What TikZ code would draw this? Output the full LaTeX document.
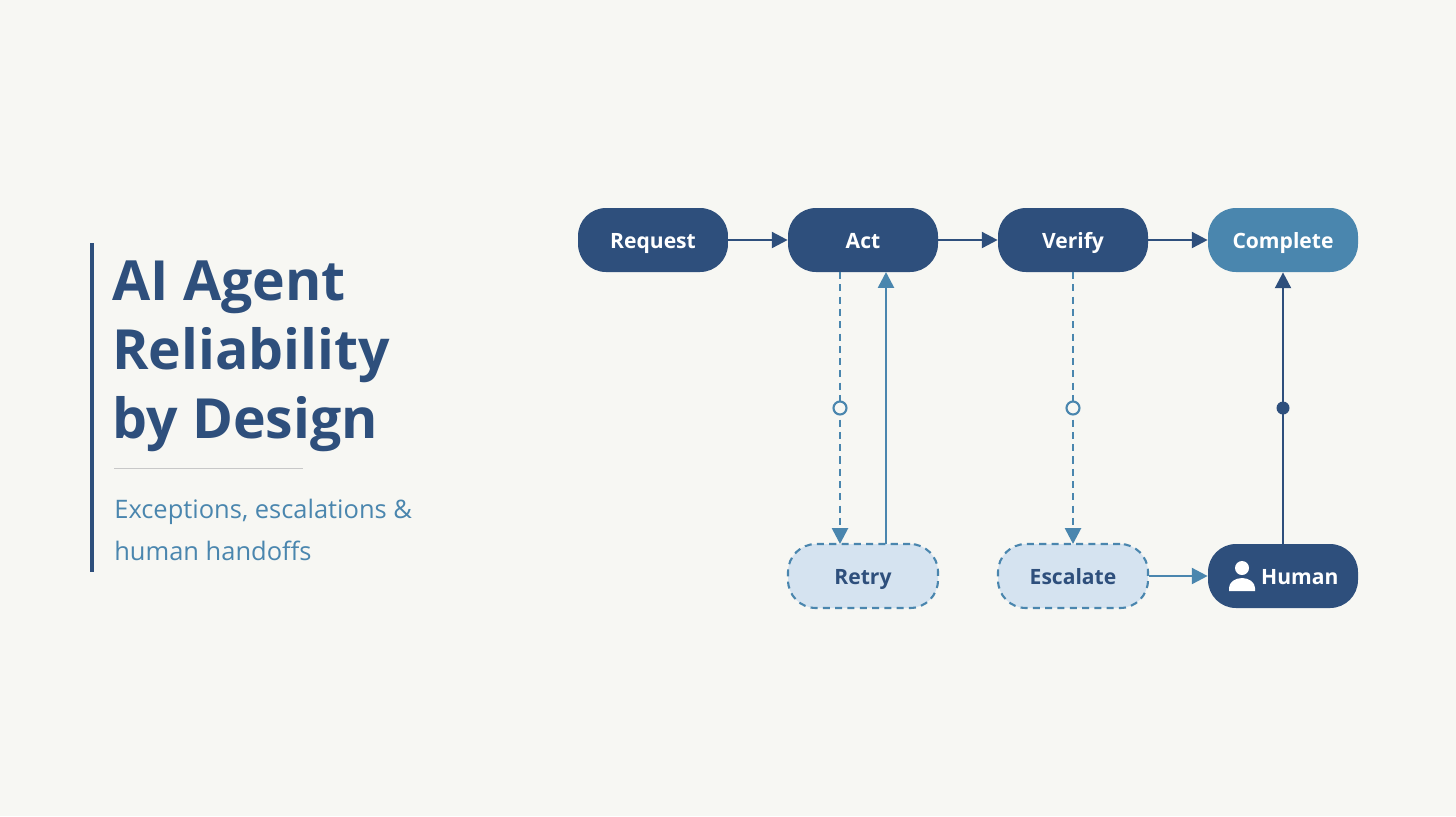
\documentclass[tikz,border=0pt]{standalone}
\usepackage{fontspec}
\setmainfont{Open Sans}
\usetikzlibrary{arrows.meta}
\definecolor{bg}{HTML}{F7F7F3}
\definecolor{dark}{HTML}{2E4F7C}
\definecolor{mid}{HTML}{4A86AE}
\definecolor{light}{HTML}{D5E3F0}
\definecolor{rule}{HTML}{C8C8C8}
\begin{document}
\begin{tikzpicture}[x=0.02cm,y=-0.02cm,
 pill/.style={rounded corners=15.9pt,minimum width=3cm,minimum height=1.28cm,font=\fontsize{12}{14}\selectfont\bfseries,text=white,fill=dark,text height=2ex,text depth=0.1ex},
 soft/.style={pill,fill=light,text=dark,draw=mid,dashed,line width=1.2pt,dash pattern=on 4pt off 3pt},
 arr/.style={line width=1.5pt,-{Triangle[length=9pt,width=9pt]}},
 dsh/.style={arr,dash pattern=on 4pt off 3pt}]
\fill[bg] (0,0) rectangle (1456,816);
\node[pill] (req) at (653,240) {Request};
\node[pill] (act) at (863,240) {Act};
\node[pill] (ver) at (1073,240) {Verify};
\node[pill,fill=mid] (com) at (1283,240) {Complete};
\node[soft] (ret) at (863,576) {Retry};
\node[soft] (esc) at (1073,576) {Escalate};
\node[pill] (hum) at (1283,576) {\hspace{1.6em}Human};
% person icon
\fill[white] (1242,568) circle (7);
\fill[white] (1229,591) -- (1229,588) arc[start angle=180,end angle=0,x radius=13,y radius=-10] -- (1255,591) -- cycle;
\draw[arr,dark] (req) -- (act);
\draw[arr,dark] (act) -- (ver);
\draw[arr,dark] (ver) -- (com);
\draw[dsh,mid] (840,272) -- (840,544);
\draw[arr,mid] (886,544) -- (886,272);
\draw[dsh,mid] (1073,272) -- (1073,544);
\draw[arr,mid] (esc) -- (hum);
\draw[arr,dark] (hum.north) -- (com.south);
\node[circle,draw=mid,fill=bg,line width=1.2pt,inner sep=0pt,minimum size=0.26cm] (c1) at (840,408) {};
\node[circle,draw=mid,fill=bg,line width=1.2pt,inner sep=0pt,minimum size=0.26cm] (c2) at (1073,408) {};
\node[circle,fill=dark,inner sep=0pt,minimum size=0.26cm] (c3) at (1283,408) {};
% title
\fill[dark] (90,243) rectangle (94,572);
\draw[rule,line width=0.5pt] (114,468) -- (303,468);
\node[anchor=base west,text=dark,font=\fontsize{31.5}{39}\selectfont\bfseries,inner sep=0pt] (t1) at (112,300) {AI Agent};
\node[anchor=base west,text=dark,font=\fontsize{31.5}{39}\selectfont\bfseries,inner sep=0pt] (t2) at (112,369) {Reliability};
\node[anchor=base west,text=dark,font=\fontsize{31.5}{39}\selectfont\bfseries,inner sep=0pt] (t3) at (112,438) {by Design};
\node[anchor=base west,text=mid,font=\fontsize{14.5}{18}\selectfont,inner sep=0pt] (s1) at (114,518) {Exceptions, escalations \&};
\node[anchor=base west,text=mid,font=\fontsize{14.5}{18}\selectfont,inner sep=0pt] (s2) at (114,560) {human handoffs};
\end{tikzpicture}
\end{document}
